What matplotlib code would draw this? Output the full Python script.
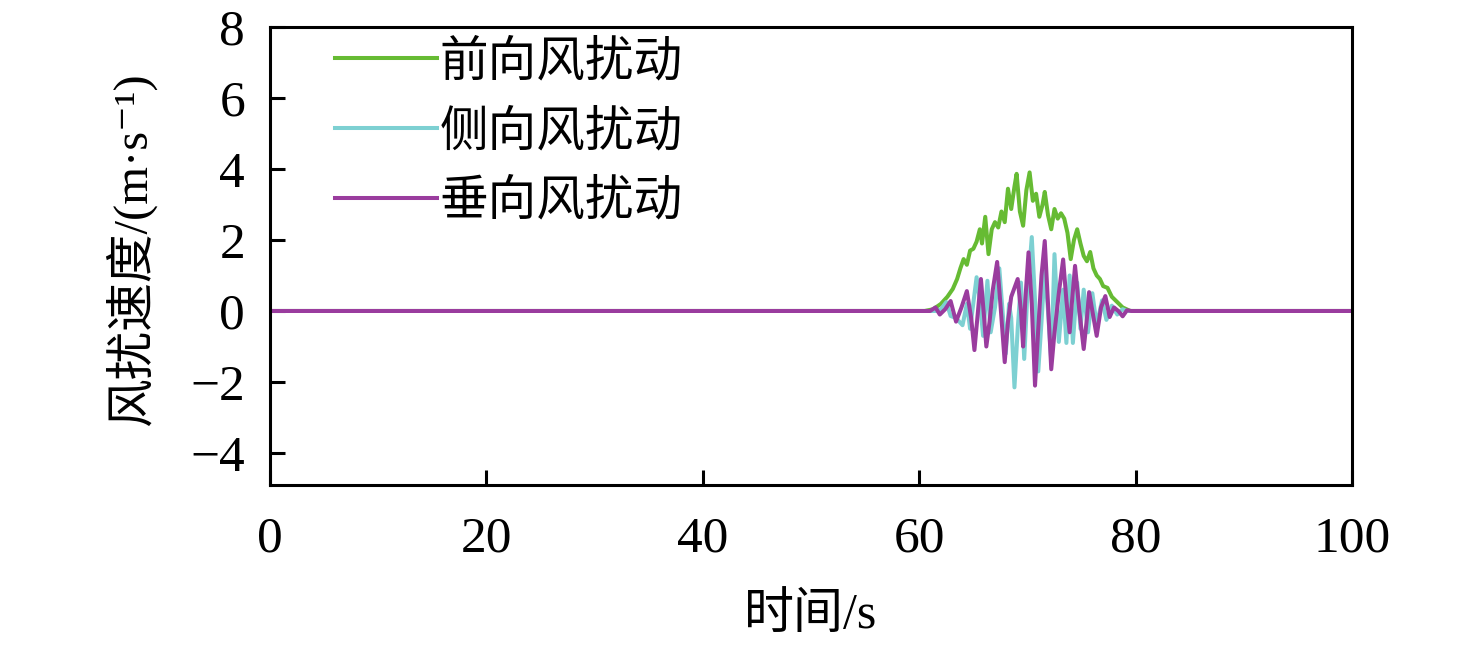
import matplotlib.pyplot as plt

plt.rcParams['font.family'] = ['Liberation Serif', 'Noto Sans CJK SC', 'DejaVu Serif']
plt.rcParams['axes.unicode_minus'] = True

# 前向风扰动
t_front = [0, 60.5, 61.3, 62.0, 62.6, 63.1, 63.5, 63.8, 64.1, 64.4, 64.7, 65.0, 65.3, 65.6, 65.8,
           66.1, 66.4, 66.7, 67.0, 67.3, 67.6, 67.9, 68.2, 68.5, 68.8, 69.0, 69.3, 69.6, 69.9,
           70.2, 70.5, 70.8, 71.1, 71.4, 71.6, 71.9, 72.2, 72.5, 72.8, 73.1, 73.4, 73.7, 74.0,
           74.3, 74.6, 74.9, 75.2, 75.5, 75.8, 76.1, 76.4, 76.7, 77.0, 77.4, 77.8, 78.3, 78.8,
           79.5, 100]
v_front = [0, 0, 0.05, 0.2, 0.4, 0.62, 0.9, 1.2, 1.46, 1.3, 1.7, 1.75, 1.95, 2.3, 1.9,
           2.65, 1.6, 2.3, 2.5, 2.35, 2.8, 2.5, 3.44, 2.87, 3.5, 3.86, 2.8, 2.4, 3.4,
           3.9, 3.1, 3.3, 2.65, 3.0, 3.35, 2.7, 2.3, 2.87, 2.6, 2.75, 2.6, 2.2, 1.46,
           2.0, 2.3, 1.9, 1.55, 1.4, 1.66, 1.2, 1.0, 0.9, 0.7, 0.65, 0.4, 0.25, 0.1,
           0.0, 0]

# 侧向风扰动
t_side = [0, 61.5, 62.0, 62.5, 62.9, 63.4, 64.0, 64.4, 64.7, 65.3, 65.6, 65.9, 66.3, 66.6,
          67.0, 67.4, 67.7, 68.0, 68.3, 68.5, 68.8, 69.1, 69.4, 69.7, 70.0, 70.4, 70.7,
          71.0, 71.3, 71.6, 71.9, 72.2, 72.5, 72.9, 73.3, 73.6, 73.9, 74.2, 74.6, 74.9,
          75.2, 75.6, 76.0, 76.4, 76.9, 77.3, 77.8, 78.3, 78.8, 79.2, 100]
v_side = [0, 0, 0.05, 0.25, -0.14, -0.2, -0.4, 0.2, -0.5, 0.95, 0.3, -0.7, 0.85, -0.6,
          0.1, 1.2, 0.0, -1.2, 0.2, -0.2, -2.15, -0.5, 0.8, -1.35, 0.5, 2.08, 0.3,
          -1.7, -0.3, 1.2, 0.0, -1.4, 1.6, -0.87, 0.6, -0.9, 1.0, -0.9, 0.8, -0.5,
          0.6, -0.6, 0.5, -0.4, 0.3, -0.25, 0.15, -0.1, 0.05, 0, 0]

# 垂向风扰动
t_vert = [0, 61.0, 61.5, 61.9, 62.4, 62.9, 63.4, 63.9, 64.4, 64.8, 65.1, 65.4, 65.7, 66.0,
          66.2, 66.5, 66.8, 67.2, 67.5, 67.9, 68.2, 68.5, 69.1, 69.4, 69.6, 69.8, 70.1,
          70.4, 70.7, 71.0, 71.3, 71.6, 71.9, 72.2, 72.5, 72.9, 73.3, 73.6, 73.9, 74.1,
          74.4, 74.8, 75.2, 75.5, 75.7, 76.0, 76.4, 76.8, 77.2, 77.6, 78.0, 78.4, 78.8,
          79.2, 79.6, 100]
v_vert = [0, 0, 0.1, -0.1, 0.05, 0.28, -0.3, 0.1, 0.56, -0.2, -1.1, -0.1, 0.9, -0.2,
          -1.0, -0.3, 0.6, 1.38, 0.2, -1.44, -0.3, 0.4, 0.9, 0.0, -1.0, 0.3, 1.65,
          0.2, -2.1, -0.5, 1.0, 1.97, 0.2, -1.64, -0.6, 0.5, 1.45, 0.3, -0.6, 0.2,
          1.27, 0.0, -1.07, -0.2, 0.53, 0.0, -0.7, 0.1, 0.42, -0.17, 0.1, 0.0, -0.15,
          0.02, 0, 0]

labels = ['前向风扰动', '侧向风扰动', '垂向风扰动']
colors = ['#66bb33', '#7dd0d2', '#9a3c9e']

fig = plt.figure(figsize=(14.76, 6.52), dpi=100)
ax = fig.add_axes([0.183, 0.256, 0.733, 0.703])

ax.plot(t_front, v_front, color=colors[0], lw=2.9, label=labels[0])
ax.plot(t_side, v_side, color=colors[1], lw=2.9, label=labels[1])
ax.plot(t_vert, v_vert, color=colors[2], lw=2.9, label=labels[2])

ax.set_xlim(0, 100)
ax.set_ylim(-4.9, 8)
ax.set_xticks([0, 20, 40, 60, 80, 100])
ax.set_yticks([-4, -2, 0, 2, 4, 6, 8])
ax.tick_params(direction='in', length=11, width=2.2, labelsize=37)
ax.tick_params(axis='x', pad=22)
ax.tick_params(axis='y', pad=18)
for s in ax.spines.values():
    s.set_linewidth(2.2)

ax.set_xlabel('时间/s', fontsize=36)
ax.set_ylabel('风扰速度/(m·s⁻¹)', fontsize=35)
ax.xaxis.set_label_coords(0.5, -0.235)
ax.yaxis.set_label_coords(-0.105, 0.515)

ax.legend(loc='upper left', bbox_to_anchor=(0.06, 0.972), frameon=False, fontsize=35,
          handlelength=2.1, handletextpad=0.05, labelspacing=0.5, borderpad=0,
          borderaxespad=0)

fig.savefig('out.png', dpi=100)
